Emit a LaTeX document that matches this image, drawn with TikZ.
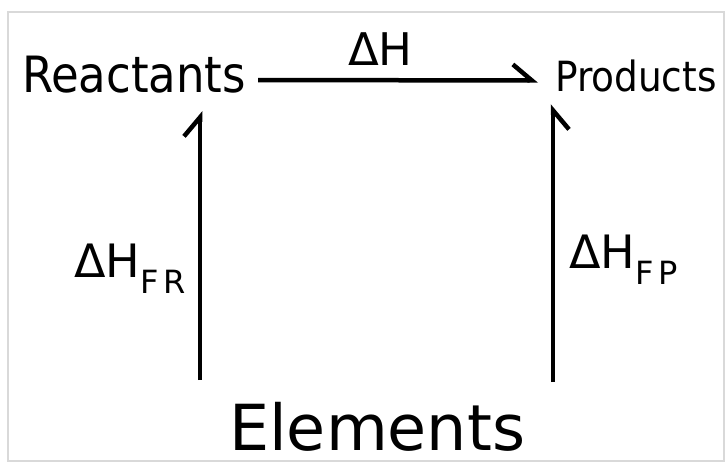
\documentclass[tikz,border=0pt]{standalone}
\usepackage{fontspec}
\setmainfont{DejaVu Sans}
\newfontfamily\condfont{DejaVu Sans Condensed}
\usetikzlibrary{arrows.meta,positioning}

\newcommand{\dhsub}[1]{ΔH\raisebox{-16pt}{\fontsize{32}{32}\selectfont #1}}

\begin{document}
\begin{tikzpicture}[
    x=1pt, y=-1pt,
    lbl/.style={inner sep=0pt, anchor=base west},
    state/.style={inner sep=0pt, anchor=west},
    harp/.style={line width=4.5pt, -{Straight Barb[#1, length=19pt, width=32pt]}}
]
    \useasboundingbox (0,0) rectangle (728,469);
    \draw [gray!30, line width=2pt] (8,12) rectangle (724,461);

    \node [state, text height=37pt, text depth=13pt, font=\condfont\fontsize{50}{50}\selectfont] (react) at (22,80) {Reactants};
    \node [state, text height=31pt, text depth=10pt, font=\condfont\fontsize{41.6}{42}\selectfont] (prod) at (555,80.5) {Products};
    \node [lbl, font=\fontsize{45}{45}\selectfont] (dh) at (348,65) {ΔH};
    \node [lbl, font=\fontsize{46}{46}\selectfont] (dhfr) at (74,277) {\dhsub{F\kern5pt R}};
    \node [lbl, font=\fontsize{46}{46}\selectfont] (dhfp) at (569,268) {\dhsub{F\kern5pt P}};
    \node [lbl, font=\fontsize{63.5}{64}\selectfont] (elem) at (229,450) {Elements};

    \coordinate (lfoot) at (200,380);
    \coordinate (rfoot) at (553,382);

    \draw [harp=left, shorten <=12pt, shorten >=17pt] (react.east) -- (prod.west);
    \draw [harp=left, shorten >=6pt] (lfoot) -- (lfoot |- react.south);
    \draw [harp=right, shorten >=3pt] (rfoot) -- (rfoot |- prod.south);
\end{tikzpicture}
\end{document}
